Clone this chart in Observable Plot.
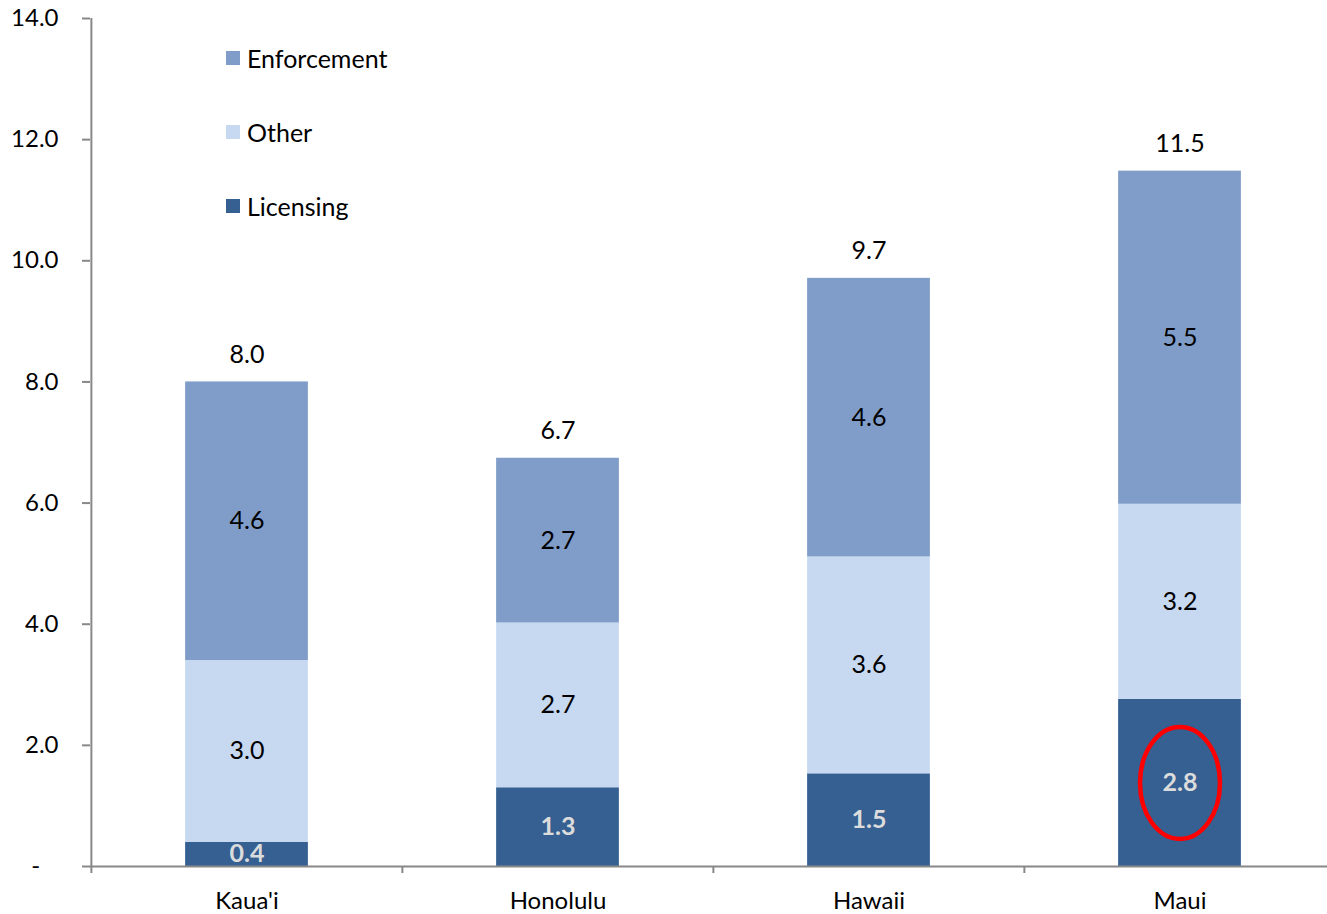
<!DOCTYPE html>
<html><head><meta charset="utf-8">
<script src="https://cdn.jsdelivr.net/npm/d3@7"></script>
<script src="https://cdn.jsdelivr.net/npm/@observablehq/plot@0.6"></script>
<style>
body{margin:0;background:#fff;font-family:Lato,sans-serif;}
#wrap{position:relative;width:1327px;height:914px;overflow:hidden;}
#legend{position:absolute;left:226px;top:0;font-size:25px;color:#000;}
.item{position:absolute;left:0;display:flex;align-items:center;white-space:nowrap;height:30px;transform:translateY(-50%);}
.sw{width:14px;height:14px;margin-right:7px;}
</style></head><body><div id="wrap"><div id="chart"></div><div id="legend"></div></div>
<script>
const categories = ["Kaua'i", "Honolulu", "Hawaii", "Maui"];
const series = ["Licensing", "Other", "Enforcement"];
const licensing = [0.4, 1.3, 1.53, 2.76];
const other = [3.0, 2.72, 3.58, 3.22];
const enforcement = [4.6, 2.72, 4.6, 5.5];
const yTicks = [0, 2, 4, 6, 8, 10, 12, 14];
const colors = ["#366092", "#C6D9F1", "#7F9DC8"];
const legendOrder = ["Enforcement", "Other", "Licensing"];
const highlight = "Maui";

const W = 1327, H = 914, mL = 90, mR = -8, mT = 18, mB = 48;
const step = (W - mL - mR) / categories.length;
const barW = 123;
const inset = (step - barW) / 2;
const seriesValues = [licensing, other, enforcement];
const rows = categories.flatMap((c, i) => series.map((s, j) => ({category: c, series: s, value: seriesValues[j][i]})));
const totals = categories.map((c, i) => ({category: c, total: licensing[i] + other[i] + enforcement[i]}));
const fmt = v => v.toFixed(1);

const ellipse = {
  draw(ctx, size) {
    const ry = Math.sqrt(size / Math.PI), rx = ry * 0.714, k = 0.5523;
    ctx.moveTo(rx, 0);
    ctx.bezierCurveTo(rx, ry * k, rx * k, ry, 0, ry);
    ctx.bezierCurveTo(-rx * k, ry, -rx, ry * k, -rx, 0);
    ctx.bezierCurveTo(-rx, -ry * k, -rx * k, -ry, 0, -ry);
    ctx.bezierCurveTo(rx * k, -ry, rx, -ry * k, rx, 0);
    ctx.closePath();
  }
};

const chart = Plot.plot({
  width: W, height: H, marginLeft: mL, marginRight: mR, marginTop: mT, marginBottom: mB,
  style: {fontFamily: "Lato", fontSize: "24px", color: "black", background: "white"},
  x: {domain: categories, padding: 0},
  y: {domain: [0, 14]},
  color: {domain: series, range: colors},
  marks: [
    Plot.barY(rows, {x: "category", y: "value", z: "series", fill: "series", insetLeft: inset, insetRight: inset}),
    Plot.text(rows, Plot.stackY({x: "category", y: "value", z: "series", text: d => d.series === "Licensing" ? null : fmt(d.value), fill: "black", fontSize: 25})),
    Plot.text(rows, Plot.stackY({x: "category", y: "value", z: "series", text: d => d.series === "Licensing" ? fmt(d.value) : null, fill: "#DCDCDC", fontWeight: "bold", fontSize: 25})),
    Plot.text(totals, {x: "category", y: "total", text: d => fmt(d.total), dy: -27, fill: "black", fontSize: 25}),
    Plot.ruleY([0], {stroke: "#888", strokeWidth: 2}),
    Plot.ruleX([categories[0]], {x: d => d, dx: -step / 2, stroke: "#888", strokeWidth: 2}),
    Plot.ruleX(categories, {x: d => d, dx: -step / 2, y1: 0, y2: 0, insetBottom: -7, stroke: "#888", strokeWidth: 2}),
    Plot.axisY({ticks: yTicks, tickSize: 8, tickPadding: 24, tickFormat: d => d === 0 ? "-\u00a0\u00a0\u00a0" : d.toFixed(1), stroke: "#888", strokeWidth: 2, fill: "black", fontSize: 24, label: null}),
    Plot.axisX({tickSize: 0, tickPadding: 25, fontSize: 24, fill: "black", label: null}),
    Plot.dot([{category: highlight, y: licensing[categories.indexOf(highlight)] / 2}], {x: "category", y: "y", r: 56, symbol: ellipse, stroke: "red", strokeWidth: 4.5, fill: "none"})
  ]
});
document.getElementById("chart").appendChild(chart);

const legend = document.getElementById("legend");
legendOrder.forEach((s, i) => {
  const item = document.createElement("div");
  item.className = "item";
  item.style.top = (58 + i * 74) + "px";
  const sw = document.createElement("div");
  sw.className = "sw";
  sw.style.background = colors[series.indexOf(s)];
  const t = document.createElement("span");
  t.textContent = s;
  item.appendChild(sw); item.appendChild(t);
  legend.appendChild(item);
});
</script>
</body></html>
